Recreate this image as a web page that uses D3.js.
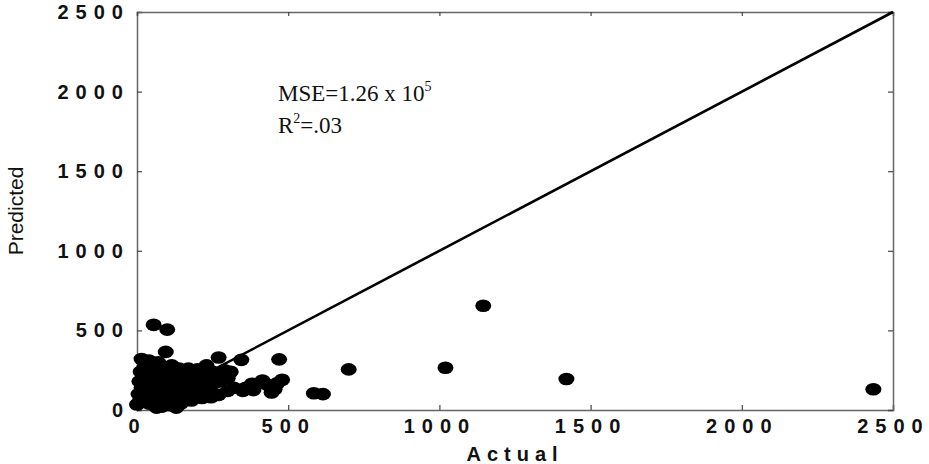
<!DOCTYPE html>
<html>
<head>
<meta charset="utf-8">
<script src="https://cdn.jsdelivr.net/npm/d3@7"></script>
<style>
  body { margin: 0; background: #fff; }
  #chart { width: 929px; height: 464px; }
  .tick text { font-family: "Liberation Sans", Arial, sans-serif; font-weight: bold; fill: #111; }
</style>
</head>
<body>
<div id="chart"></div>
<script>
/* data: [actual, predicted] */
const actual = [55,100,95,15,40,70, 270,345,470,230,310,200,170,250,
  360,385,380,415,430,465,445,455,480,350,
  130,145,180,215,245,270,230,200,300,320,
  585,615,700,1020,1145,1420,2435,
  0,10,5,15,8,20,12,25,30,35,40,45,50,55,60,65,70,75,80,85,90,95,100,105,110,115,120,125,130,135,140,145,150,155,160,165,170,175,185,190,195,205,210,220,225,235,240,255,260,275,285,290,300,30,50,60,70,85,95,110,20,40,75,90,125,150,115,45,65];
const predicted = [535,505,365,320,310,300, 330,315,318,280,240,255,260,240,
  140,125,165,185,160,170,110,130,190,120,
  15,40,60,75,80,95,100,110,120,140,
  105,100,255,265,655,195,130,
  35,60,100,140,180,210,240,270,120,80,40,160,200,250,290,130,90,55,20,170,220,270,110,150,190,240,80,130,175,210,260,100,150,190,230,120,170,210,140,180,220,160,200,230,150,190,130,170,210,180,220,250,200,300,60,170,230,100,60,30,90,230,190,130,45,70,280,110,15];

const xTicks = [0, 500, 1000, 1500, 2000, 2500];
const yTicks = [0, 500, 1000, 1500, 2000, 2500];

const width = 929, height = 464;
const margin = {top: 12, left: 137, right: 36, bottom: 54};

const svg = d3.select("#chart").append("svg")
    .attr("width", width)
    .attr("height", height);

const xScale = d3.scaleLinear().domain([0, 2500]).range([margin.left, width - margin.right]);
const yScale = d3.scaleLinear().domain([0, 2500]).range([height - margin.bottom, margin.top]);

const ls = 7; // letter spacing of tick labels

// axes with inward ticks
svg.append("g")
    .attr("transform", `translate(0,${height - margin.bottom})`)
    .call(d3.axisBottom(xScale).tickValues(xTicks).tickSize(-5).tickPadding(9).tickFormat(d3.format("d")))
    .call(g => g.selectAll("text").attr("font-size", 20).attr("letter-spacing", ls));

svg.append("g")
    .attr("transform", `translate(${margin.left},0)`)
    .call(d3.axisLeft(yScale).tickValues(yTicks).tickSize(-5).tickPadding(14).tickFormat(d3.format("d")))
    .call(g => g.selectAll("text").attr("font-size", 20).attr("letter-spacing", ls).attr("dx", ls));

svg.append("g")
    .attr("transform", `translate(0,${margin.top})`)
    .call(d3.axisTop(xScale).tickValues(xTicks).tickSize(-4).tickFormat(""));

svg.append("g")
    .attr("transform", `translate(${width - margin.right},0)`)
    .call(d3.axisRight(yScale).tickValues(yTicks).tickSize(-5).tickFormat(""));

svg.selectAll(".domain").attr("stroke", "#666").attr("stroke-width", 1.5);
svg.selectAll(".tick line").attr("stroke", "#444").attr("stroke-width", 1.2);

// 1:1 line
svg.append("line")
    .attr("x1", xScale(0)).attr("y1", yScale(0))
    .attr("x2", xScale(2500)).attr("y2", yScale(2500))
    .attr("stroke", "#000")
    .attr("stroke-width", 2.6);

// points
const points = actual.map((a, i) => ({a: a, p: predicted[i]}));
svg.selectAll("ellipse")
    .data(points)
    .enter()
    .append("ellipse")
        .attr("cx", d => xScale(d.a))
        .attr("cy", d => yScale(d.p))
        .attr("rx", 8)
        .attr("ry", 6.3)
        .attr("fill", "#000");

// axis labels
svg.append("text")
    .attr("x", 512 + 3)
    .attr("y", 461)
    .attr("text-anchor", "middle")
    .attr("font-family", "Liberation Sans, Arial, sans-serif")
    .attr("font-size", 20)
    .attr("font-weight", "bold")
    .attr("letter-spacing", 6)
    .attr("fill", "#111")
    .text("Actual");

svg.append("text")
    .attr("transform", "translate(23,211) rotate(-90)")
    .attr("text-anchor", "middle")
    .attr("font-family", "Liberation Sans, Arial, sans-serif")
    .attr("font-size", 21)
    .attr("fill", "#111")
    .text("Predicted");

// annotation
const note = svg.append("g")
    .attr("font-family", "Liberation Serif, Times New Roman, serif")
    .attr("font-size", 23)
    .attr("fill", "#111");

const mse = note.append("text").attr("x", 278).attr("y", 101);
mse.append("tspan").text("MSE=1.26 x 10");
mse.append("tspan").attr("font-size", 14).attr("dy", -10).text("5");

const r2 = note.append("text").attr("x", 278).attr("y", 133);
r2.append("tspan").text("R");
r2.append("tspan").attr("font-size", 14).attr("dy", -10).text("2");
r2.append("tspan").attr("dy", 10).text("=.03");
</script>
</body>
</html>
